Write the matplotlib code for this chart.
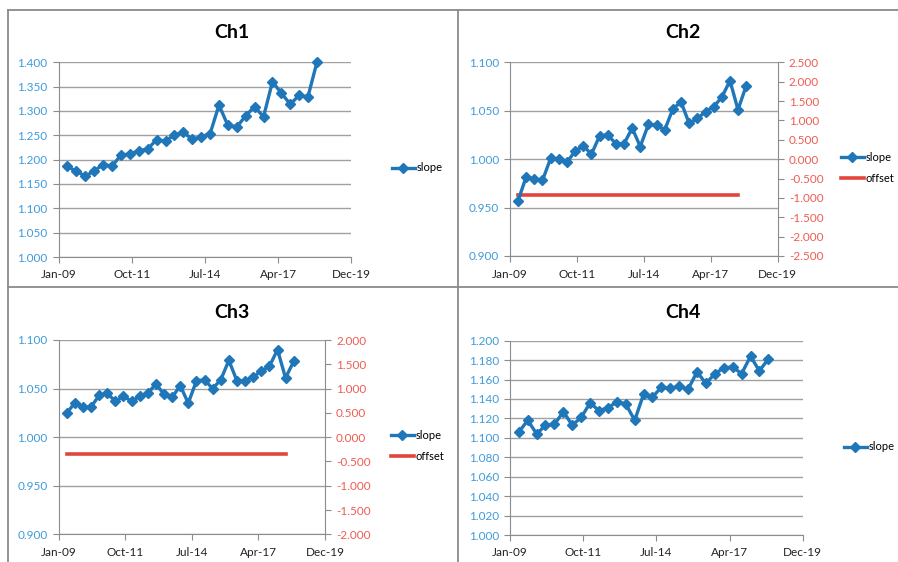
import matplotlib
matplotlib.use("Agg")
import matplotlib.pyplot as plt
import matplotlib.dates as mdates
from matplotlib.lines import Line2D
import pandas as pd

plt.rcParams['font.family'] = ['Lato', 'DejaVu Sans']

# sample dates: every 4 months from May 2009
dates = pd.date_range('2009-05-01', periods=29, freq='4MS') + pd.Timedelta(days=14)

ch1_slope = [1.186, 1.176, 1.166, 1.177, 1.190, 1.187, 1.209, 1.212, 1.218, 1.222,
             1.241, 1.238, 1.251, 1.256, 1.242, 1.247, 1.253, 1.312, 1.271, 1.267,
             1.290, 1.309, 1.288, 1.360, 1.337, 1.314, 1.332, 1.329, 1.400]
ch2_slope = [0.957, 0.982, 0.979, 0.978, 1.001, 1.000, 0.997, 1.008, 1.014, 1.005,
             1.024, 1.025, 1.016, 1.016, 1.032, 1.013, 1.036, 1.035, 1.030, 1.052,
             1.059, 1.037, 1.042, 1.049, 1.054, 1.064, 1.081, 1.051, 1.076]
ch2_offset = [-0.93] * 28
ch3_slope = [1.025, 1.035, 1.031, 1.031, 1.043, 1.045, 1.037, 1.042, 1.037, 1.042,
             1.045, 1.055, 1.044, 1.041, 1.053, 1.035, 1.058, 1.059, 1.050, 1.059,
             1.079, 1.058, 1.058, 1.062, 1.068, 1.073, 1.090, 1.061, 1.078]
ch3_offset = [-0.35] * 28
ch4_slope = [1.106, 1.118, 1.104, 1.113, 1.114, 1.127, 1.113, 1.121, 1.136, 1.128,
             1.131, 1.137, 1.135, 1.118, 1.145, 1.142, 1.152, 1.151, 1.153, 1.150,
             1.168, 1.156, 1.166, 1.172, 1.173, 1.166, 1.184, 1.169, 1.181]

BLUE = '#1f77ba'
RED = '#e0463c'
LBLUE = '#3f9bdb'
LRED = '#ef5c52'
GRID = '#a0a0a0'
W, H = 898, 562

xmin = pd.Timestamp('2009-01-15')
xticks = [xmin + pd.Timedelta(days=1000 * k) for k in range(5)]

fig = plt.figure(figsize=(W / 100, H / 100), dpi=100)


def px_axes(left, top, right, bottom):
    return fig.add_axes([left / W, 1 - bottom / H, (right - left) / W, (bottom - top) / H])


def style(ax, ymin, ymax, step):
    ax.set_xlim(xmin, xticks[-1])
    ax.set_xticks(xticks)
    ax.xaxis.set_major_formatter(mdates.DateFormatter('%b-%y'))
    ax.set_ylim(ymin, ymax)
    n = int(round((ymax - ymin) / step))
    ax.set_yticks([ymin + i * step for i in range(n + 1)])
    ax.yaxis.set_major_formatter(plt.FormatStrFormatter('%.3f'))
    ax.grid(axis='y', color=GRID, lw=1)
    ax.set_axisbelow(True)
    for s in ['top', 'right']:
        ax.spines[s].set_visible(False)
    for s in ['left', 'bottom']:
        ax.spines[s].set_color('#8c8c8c')
    ax.tick_params(axis='y', colors='#8c8c8c', labelcolor=LBLUE, labelsize=8.5, length=4, pad=4)
    ax.tick_params(axis='x', colors='#8c8c8c', labelcolor='#222222', labelsize=8.5, length=4, pad=5)


def right_axis(ax, ymin, ymax, step):
    ax2 = ax.twinx()
    ax2.set_ylim(ymin, ymax)
    n = int(round((ymax - ymin) / step))
    ax2.set_yticks([ymin + i * step for i in range(n + 1)])
    ax2.yaxis.set_major_formatter(plt.FormatStrFormatter('%.3f'))
    for s in ['top', 'left', 'bottom']:
        ax2.spines[s].set_visible(False)
    ax2.spines['right'].set_color('#8c8c8c')
    ax2.tick_params(axis='y', colors='#8c8c8c', labelcolor=LRED, labelsize=8.5, length=4, pad=4)
    return ax2


def slope_line(ax, y):
    return ax.plot(dates, y, color=BLUE, lw=2.4, marker='D', ms=5, label='slope', clip_on=False)[0]


def legend(ax, handles, x, y):
    ax.legend(handles=handles, loc='center left', bbox_to_anchor=(x / W, 1 - y / H),
              bbox_transform=fig.transFigure, frameon=False, fontsize=8,
              handlelength=2.1, handletextpad=0.15, labelspacing=0.95, borderpad=0)


def title(x, y, s):
    fig.text(x / W, 1 - y / H, s, ha='center', va='center', fontsize=14, fontweight='bold')


# Ch1
ax1 = px_axes(58.7, 62.3, 351.3, 257)
style(ax1, 1.0, 1.4, 0.05)
h = slope_line(ax1, ch1_slope)
legend(ax1, [h], 386, 168)
title(232, 33, 'Ch1')

# Ch2
ax2 = px_axes(510, 62.3, 777.7, 256)
style(ax2, 0.9, 1.1, 0.05)
ax2r = right_axis(ax2, -2.5, 2.5, 0.5)
ho = ax2r.plot(dates[:28], ch2_offset, color=RED, lw=2.6, label='offset')[0]
ax2.set_zorder(ax2r.get_zorder() + 1)
ax2.patch.set_visible(False)
h = slope_line(ax2, ch2_slope)
legend(ax2, [h, ho], 835, 168)
title(683, 33, 'Ch2')

# Ch3
ax3 = px_axes(58.7, 340, 325, 534.3)
style(ax3, 0.9, 1.1, 0.05)
ax3r = right_axis(ax3, -2.0, 2.0, 0.5)
ho = ax3r.plot(dates[:28], ch3_offset, color=RED, lw=2.6, label='offset')[0]
ax3.set_zorder(ax3r.get_zorder() + 1)
ax3.patch.set_visible(False)
h = slope_line(ax3, ch3_slope)
legend(ax3, [h, ho], 385, 446)
title(232, 312, 'Ch3')

# Ch4
ax4 = px_axes(510, 340.7, 802.7, 535)
style(ax4, 1.0, 1.2, 0.02)
h = slope_line(ax4, ch4_slope)
legend(ax4, [h], 838, 447)
title(683, 312, 'Ch4')

# panel borders
bc = '#8a8a8a'
for xs, ys in [([7.5, W], [9.5, 9.5]), ([7.5, 7.5], [9.5, H]),
               ([458, 458], [9.5, H]), ([7.5, W], [287, 287])]:
    fig.add_artist(Line2D([x / W for x in xs], [1 - y / H for y in ys],
                          color=bc, lw=1.3, transform=fig.transFigure))

fig.savefig('out.png', dpi=100)
